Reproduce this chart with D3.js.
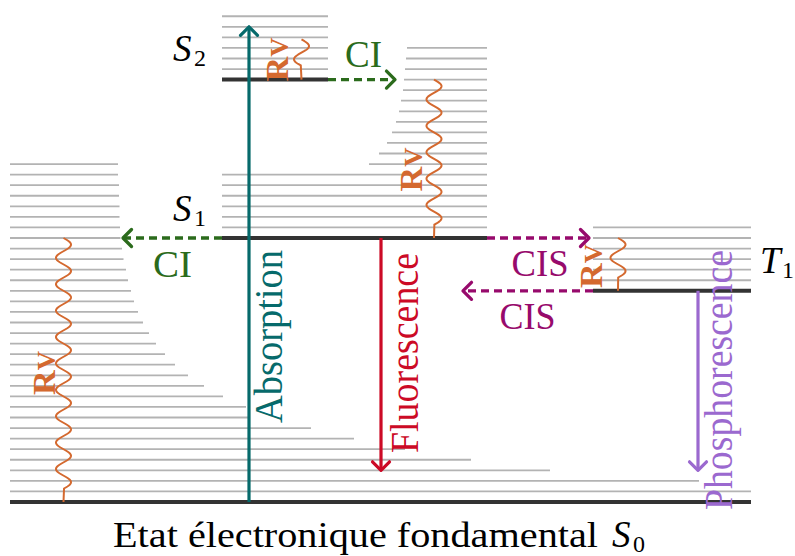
<!DOCTYPE html>
<html>
<head>
<meta charset="utf-8">
<script src="https://cdn.jsdelivr.net/npm/d3@7"></script>
<style>
body { margin: 0; background: #fff; }
</style>
</head>
<body>
<svg id="chart"></svg>
<script>
// energies in vibrational quanta above S0
var levelNames = ["S0", "S1", "S2", "T1"];
var levelE = [0, 25, 40, 20];
var levelX0 = [10, 222, 222, 593];
var levelX1 = [751, 487, 328, 751];

// right ends of S0 vibrational lines, v = 1..32
var s0Right = [751, 699, 550, 471, 405, 354, 311, 249, 246, 223, 204, 188, 175, 165, 156, 149,
               143, 138, 134, 131, 128, 126, 123.5, 122, 120.5, 120, 119.5, 119.5, 119, 119, 118, 118];
// left ends of S1 vibrational lines, v = 1..18
var s1Left = [222, 222, 222, 222, 222, 222, 369, 379, 387, 392, 396, 399, 401, 403, 404, 405, 406, 407];
var s2Vib = 6, t1Vib = 6;

// radiative transitions (name, x, from, to)
var radNames = ["Absorption", "Fluorescence", "Phosphorescence"];
var radX = [249, 381, 698];
var radFrom = [0, 25, 20];
var radTo = [45, 3, 3];
var radColors = ["#066a6b", "#cc0a26", "#9b69cf"];

// non radiative transitions
var nrNames = ["CI", "CI", "CIS", "CIS"];
var nrE = [40, 25, 25, 20];
var nrX0 = [328, 222, 487, 593];
var nrX1 = [395, 123, 589, 463];
var nrColors = ["#2b6b1c", "#2b6b1c", "#970a6c", "#970a6c"];

// vibrational relaxation (x, top, bottom)
var rvX = [63.5, 301.5, 434, 618];
var rvTop = [25, 43.8, 40, 25];
var rvBottom = [0, 40, 25, 20];

var width = 795, height = 556;
var serif = "Liberation Serif";
var svg = d3.select("#chart").attr("width", width).attr("height", height)
    .attr("font-family", serif);

var x = d3.scaleLinear().domain([0, 795]).range([0, 795]);
var y = d3.scaleLinear().domain([0, 25]).range([502, 238]);

var gray = "#b3b3b3", dark = "#333333", orange = "#d4692f";

// vibrational sublevels
var vib = [];
s0Right.forEach(function(r, i) { vib.push({x0: 10, x1: r, e: i + 1}); });
s1Left.forEach(function(l, i) { vib.push({x0: l, x1: 487, e: 25 + i + 1}); });
d3.range(1, s2Vib + 1).forEach(function(v) { vib.push({x0: 222, x1: 328, e: 40 + v}); });
d3.range(1, t1Vib + 1).forEach(function(v) { vib.push({x0: 593, x1: 751, e: 20 + v}); });

svg.append("g").selectAll("line")
    .data(vib).enter().append("line")
    .attr("x1", d => x(d.x0)).attr("x2", d => x(d.x1))
    .attr("y1", d => y(d.e)).attr("y2", d => y(d.e))
    .attr("stroke", gray).attr("stroke-width", 1.8);

// electronic levels
svg.append("g").selectAll("line")
    .data(levelE).enter().append("line")
    .attr("x1", (d, i) => x(levelX0[i])).attr("x2", (d, i) => x(levelX1[i]))
    .attr("y1", d => y(d)).attr("y2", d => y(d))
    .attr("stroke", dark).attr("stroke-width", 4);

// snake decoration, like tikz
function snake(cx, yTop, yBot) {
    var seg = 26.4, amp = 7.5;
    var L = yBot - yTop;
    var n = Math.floor((L - 4) / (seg / 2));
    var pts = [];
    for (var t = 0; t <= n * seg / 2; t += 0.5) {
        pts.push([cx + amp * Math.sin(2 * Math.PI * t / seg), yTop + t]);
    }
    pts.push([cx, yBot]);
    return d3.line()(pts);
}

svg.append("g").selectAll("path")
    .data(rvX).enter().append("path")
    .attr("d", (d, i) => snake(x(d), y(rvTop[i]), y(rvBottom[i])))
    .attr("fill", "none").attr("stroke", orange).attr("stroke-width", 2);

function chevron(tx, ty, dx, dy) {
    // dx,dy = unit direction of the arrow
    var s = 8.5;
    var px = -dy, py = dx;
    return "M" + (tx - dx * s + px * s) + "," + (ty - dy * s + py * s) +
           "L" + tx + "," + ty +
           "L" + (tx - dx * s - px * s) + "," + (ty - dy * s - py * s);
}

// radiative arrows
var rad = svg.append("g");
radX.forEach(function(xx, i) {
    var y0 = y(radFrom[i]), y1 = y(radTo[i]);
    var dir = y1 < y0 ? -1 : 1;
    rad.append("line")
        .attr("x1", x(xx)).attr("x2", x(xx))
        .attr("y1", y0).attr("y2", y1 - dir * 1)
        .attr("stroke", radColors[i]).attr("stroke-width", 3.2);
    rad.append("path")
        .attr("d", chevron(x(xx), y1, 0, dir))
        .attr("fill", "none").attr("stroke", radColors[i]).attr("stroke-width", 3.2)
        .attr("stroke-linecap", "round").attr("stroke-linejoin", "round");
});

// non radiative arrows
var nr = svg.append("g");
nrE.forEach(function(e, i) {
    var dir = nrX1[i] > nrX0[i] ? 1 : -1;
    nr.append("line")
        .attr("x1", x(nrX0[i])).attr("x2", x(nrX1[i]) - dir * 2)
        .attr("y1", y(e)).attr("y2", y(e))
        .attr("stroke", nrColors[i]).attr("stroke-width", 3.3)
        .attr("stroke-dasharray", "8,5");
    nr.append("path")
        .attr("d", chevron(x(nrX1[i]), y(e), dir, 0))
        .attr("fill", "none").attr("stroke", nrColors[i]).attr("stroke-width", 3.3)
        .attr("stroke-linecap", "round").attr("stroke-linejoin", "round");
});

// labels of the radiative arrows (rotated)
var radLabX = [281.5, 418, 731.5], radLabY = [336.5, 353, 380], radLabLen = [173, 200, 260];
radNames.forEach(function(t, i) {
    svg.append("text")
        .attr("transform", "translate(" + radLabX[i] + "," + radLabY[i] + ") rotate(-90)")
        .attr("text-anchor", "middle")
        .attr("font-family", serif)
        .attr("font-size", 39)
        .attr("textLength", radLabLen[i]).attr("lengthAdjust", "spacingAndGlyphs")
        .attr("fill", radColors[i])
        .text(t);
});

// labels of non radiative arrows
var nrLabX = [363.5, 172.5, 540, 527.5], nrLabY = [66.7, 276.7, 276, 329];
var nrLabLen = [37, 39, 57, 56];
nrNames.forEach(function(t, i) {
    svg.append("text")
        .attr("x", nrLabX[i]).attr("y", nrLabY[i])
        .attr("text-anchor", "middle")
        .attr("font-family", serif)
        .attr("font-size", 37)
        .attr("textLength", nrLabLen[i]).attr("lengthAdjust", "spacingAndGlyphs")
        .attr("fill", nrColors[i])
        .text(t);
});

// RV labels
var rvLabX = [55, 288, 421.5, 601.5], rvLabY = [395, 81.5, 191.5, 288];
rvLabX.forEach(function(lx, i) {
    var t = svg.append("text")
        .attr("transform", "translate(" + lx + "," + rvLabY[i] + ") rotate(-90)")
        .attr("font-family", serif)
        .attr("font-size", 32).attr("font-weight", "bold")
        .attr("textLength", 44).attr("lengthAdjust", "spacingAndGlyphs")
        .attr("fill", orange);
    t.append("tspan").text("R");
    t.append("tspan").attr("font-size", 25).text("V");
});

// state labels
var stateSym = ["S", "S", "T", "S"], stateSub = ["2", "1", "1", "0"];
var stateX = [173, 173, 760, 612], stateY = [60.7, 220.7, 273, 547];
stateSym.forEach(function(s, i) {
    svg.append("text")
        .attr("x", stateX[i]).attr("y", stateY[i])
        .attr("font-family", serif)
        .attr("font-size", 37).attr("font-style", "italic")
        .text(s);
    svg.append("text")
        .attr("x", stateX[i] + (s == "T" ? 22 : 21)).attr("y", stateY[i] + 5)
        .attr("font-family", serif)
        .attr("font-size", 24)
        .text(stateSub[i]);
});

svg.append("text")
    .attr("x", 113).attr("y", 547)
    .attr("font-family", serif)
    .attr("font-size", 36)
    .attr("textLength", 485).attr("lengthAdjust", "spacingAndGlyphs")
    .text("Etat électronique fondamental");
</script>
</body>
</html>
